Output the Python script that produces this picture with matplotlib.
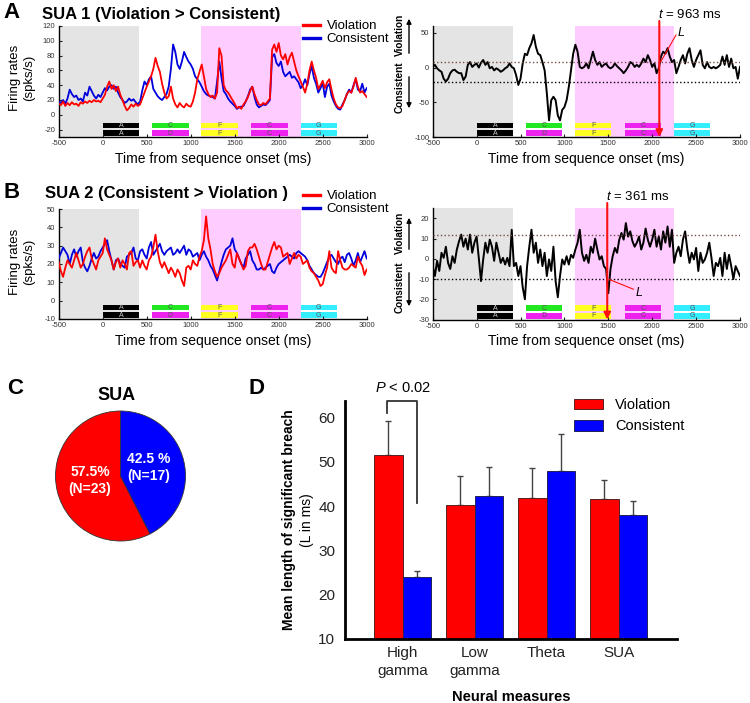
import numpy as np
import matplotlib
matplotlib.use('Agg')
import matplotlib.pyplot as plt
from matplotlib.patches import Rectangle
from matplotlib.lines import Line2D
from matplotlib.transforms import blended_transform_factory

plt.rcParams['font.family'] = ['Liberation Sans', 'DejaVu Sans']
plt.rcParams['axes.unicode_minus'] = False
plt.rcParams['mathtext.fontset'] = 'custom'
plt.rcParams['mathtext.it'] = 'Liberation Sans:italic'
plt.rcParams['mathtext.rm'] = 'Liberation Sans'

# ---------------- data ----------------
t_ms = np.arange(-500, 3001, 25)

sua1_violation = [15, 13, 18, 12, 16, 13, 17, 14, 15, 12, 17, 15, 18, 16, 19, 17, 20, 18, 19, 17,
                  22, 27, 38, 45, 35, 40, 32, 38, 27, 20, 12, 6, 9, 14, 11, 15, 12, 14, 22, 30,
                  38, 45, 52, 62, 77, 66, 58, 42, 30, 22, 25, 38, 22, 14, 10, 16, 12, 10, 15, 12,
                  11, 18, 30, 48, 58, 68, 52, 35, 28, 24, 26, 22, 30, 90, 80, 40, 33, 30, 25, 20,
                  15, 9, 11, 8, 14, 18, 24, 32, 38, 28, 20, 14, 13, 16, 14, 18, 22, 88, 95, 85,
                  97, 80, 75, 82, 68, 78, 84, 72, 60, 52, 45, 38, 30, 42, 60, 72, 60, 50, 35, 40,
                  46, 36, 44, 48, 34, 22, 14, 10, 9, 12, 20, 28, 32, 30, 38, 50, 38, 30, 32, 28,
                  24]
sua1_consistent = [18, 16, 20, 15, 22, 34, 28, 24, 26, 20, 22, 18, 30, 26, 38, 32, 26, 22, 27, 24,
                   30, 36, 33, 38, 40, 35, 38, 30, 24, 20, 16, 18, 22, 19, 21, 17, 14, 18, 33, 45,
                   40, 48, 52, 35, 30, 25, 22, 20, 24, 28, 38, 62, 95, 85, 68, 62, 72, 85, 78, 72,
                   68, 62, 52, 48, 44, 38, 32, 28, 26, 25, 24, 22, 45, 72, 50, 32, 28, 22, 18, 15,
                   12, 8, 10, 11, 12, 18, 25, 34, 38, 24, 14, 10, 12, 14, 13, 16, 20, 78, 82, 70,
                   66, 72, 58, 52, 55, 58, 50, 52, 48, 44, 36, 40, 48, 40, 55, 66, 50, 42, 30, 36,
                   43, 24, 38, 42, 26, 18, 12, 8, 7, 14, 20, 28, 34, 30, 40, 48, 34, 32, 42, 30,
                   36]
sua1_difference = [1, 4, -1, -4, -6, -16, -20, -16, -8, -4, -3, -6, -8, -8, -18, -13, 4, 8, 1, 4,
                   6, 0, 7, 11, 4, 8, -1, 1, -4, -1, -3, -6, -4, -1, 1, 6, 1, -1, -11, -25,
                   -16, 6, 20, 18, 28, 35, 47, 30, 20, 18, 8, -4, -37, -76, -47, -42, -47, -69, -76, -61,
                   -57, -47, -28, -4, 20, 33, 23, 1, -1, 1, 6, -1, 11, 23, 11, 4, 8, 1, 4, 6,
                   1, -1, 1, 6, 2, -1, -4, -8, -4, 1, 8, 6, 1, 4, 1, 6, 13, 8, 18, 11,
                   1, 6, -8, -1, 16, 23, 20, 28, 16, 8, 11, -8, 1, 11, 18, 6, 20, 28, 11, 1,
                   11, 18, 25, 4, -1, 8, 1, -1, 1, -1, 1, 4, 16, 4, 18, 1, 13, -1, 1, -16,
                   1]

sua2_violation = [21, 16, 13, 18, 22, 20, 18, 22, 26, 22, 18, 20, 24, 27, 29, 23, 20, 17, 22, 24,
                  26, 34, 28, 25, 22, 17, 21, 23, 18, 22, 20, 17, 26, 27, 19, 21, 22, 18, 22, 19,
                  17, 22, 24, 29, 36, 27, 21, 18, 21, 18, 15, 18, 16, 13, 17, 15, 11, 8, 18, 19,
                  17, 22, 20, 19, 24, 27, 33, 46, 34, 28, 20, 16, 13, 15, 18, 20, 22, 25, 28, 20,
                  18, 26, 23, 20, 17, 19, 27, 29, 29, 31, 28, 24, 20, 17, 17, 21, 25, 29, 32, 28,
                  30, 29, 24, 25, 26, 20, 23, 26, 23, 25, 24, 20, 21, 22, 18, 16, 15, 13, 11, 8,
                  9, 14, 18, 27, 18, 16, 15, 27, 22, 18, 17, 17, 18, 20, 19, 18, 24, 21, 19, 14,
                  17]
sua2_consistent = [23, 26, 29, 27, 25, 20, 25, 28, 24, 27, 29, 21, 18, 16, 19, 23, 26, 23, 24, 27,
                   29, 31, 33, 27, 22, 17, 22, 23, 20, 19, 18, 24, 25, 26, 29, 23, 22, 27, 28, 25,
                   23, 29, 32, 25, 27, 29, 31, 27, 25, 27, 28, 29, 25, 26, 28, 26, 28, 30, 25, 28,
                   27, 24, 25, 26, 22, 25, 27, 24, 22, 19, 17, 14, 11, 16, 21, 25, 28, 29, 30, 34,
                   28, 26, 23, 20, 18, 23, 25, 27, 22, 20, 17, 17, 18, 17, 18, 19, 20, 16, 15, 18,
                   20, 21, 22, 23, 24, 25, 24, 23, 26, 27, 26, 25, 24, 22, 19, 17, 15, 14, 13, 13,
                   15, 18, 21, 24, 25, 23, 21, 20, 23, 24, 21, 25, 26, 23, 19, 22, 26, 21, 24, 27,
                   23]
sua2_difference = [-3.6, -8.5, -1, -6, 3, 0.5, 6, -2, -5, 1.3, -2, 4.6, 8.7, 12, 6, 10, 4.6, 12, 3, 8,
                   11, 0.5, -11, -0.3, 8, 3, 9.5, 6, -1, 8, 3, -2, 0.5, -2.8, 0.5, -3.6, 14.4, -3.6, -2, -8.5,
                   -3.6, -14, -20, -3.6, 6, 14.4, 3, 8, -2, 4.6, -3.6, 3, -8.5, -0.3, -6, 6, -11, -19, -8.5, -0.3,
                   -2.8, 1.3, -2.8, 2, 0.5, 4.6, 8, 14.4, 3, -1, 2, -2, 6, 3, 10, 4.6, -0.3, 1.3, -3.6, -5,
                   -17, -5, 1.3, 5.4, 3, 9.5, 12.8, 9.5, 17.7, 11, 13.6, 8.7, 6, 8, 11, 4.6, 8, 15, 9.5, 6,
                   9.5, 14.4, 6, 11, 4.6, 13.6, 8, 16, 6, 14.4, -2, 3, 6, 1.3, 9.5, 13.6, 4.6, -2, 3, -0.3,
                   5.4, -6, 3, -2, -0.3, 3, 8, 0.5, -8.5, -2, -3.6, 0.5, -8.5, 3, -5, 2, -3.6, -10, -3.6, -6,
                   -8.5]

# thresholds for the difference traces (upper, lower)
sua1_thresholds = [8.5, -21]
sua2_thresholds = [11.6, -9.9]
sua1_breach_time = 2081
sua2_breach_time = 1488
sua1_breach_label = 't = 963 ms'
sua2_breach_label = 't = 361 ms'

# stimulus sequence
stim_onsets = [0, 560, 1120, 1685, 2249]
stim_dur = 415
top_letters = ['A', 'C', 'F', 'C', 'G']
bottom_letters = ['A', 'D', 'F', 'C', 'G']
top_colors = ['#000000', '#22e822', '#ffff22', '#ee22ee', '#33eeff']
bottom_colors = ['#000000', '#ee22ee', '#ffff22', '#ee22ee', '#33eeff']
baseline_window = [-500, 415]
violation_window = [1120, 2249]

# pie
pie_values = [57.5, 42.5]
pie_labels = ['57.5%\n(N=23)', '42.5 %\n(N=17)']

# bars
measures = ['High\ngamma', 'Low\ngamma', 'Theta', 'SUA']
viol_mean = [51.5, 40.2, 41.8, 41.5]
viol_err = [7.8, 6.6, 6.7, 4.3]
cons_mean = [23.9, 42.3, 48.0, 37.9]
cons_err = [1.4, 6.5, 8.3, 3.2]

# ---------------- figure ----------------
W, H = 750, 703
fig = plt.figure(figsize=(7.5, 7.03), dpi=100)


def fx(px):
    return px / W


def fy(py):
    return 1 - py / H


def rect(l, t, r, b):
    return [l / W, 1 - b / H, (r - l) / W, (b - t) / H]


def ts_panel(ax, ylim, yticks):
    ax.set_xlim(-500, 3000)
    ax.set_ylim(*ylim)
    ax.axvspan(*baseline_window, color='#e4e4e4', lw=0, zorder=0)
    ax.axvspan(*violation_window, color='#ffccff', lw=0, zorder=0)
    tr = blended_transform_factory(ax.transData, ax.transAxes)
    for letters, colors, (y0, y1) in [(top_letters, top_colors, (0.078, 0.128)),
                                      (bottom_letters, bottom_colors, (0.008, 0.062))]:
        for on, let, col in zip(stim_onsets, letters, colors):
            ax.add_patch(Rectangle((on, y0), stim_dur, y1 - y0, transform=tr,
                                   facecolor=col, edgecolor='none', zorder=1))
            ax.text(on + stim_dur / 2, (y0 + y1) / 2 - 0.003, let, transform=tr,
                    ha='center', va='center', fontsize=5,
                    color='#cccccc' if col == '#000000' else '#555555', zorder=2)
    ax.set_xticks(np.arange(-500, 3001, 500))
    ax.set_yticks(yticks)
    ax.tick_params(direction='in', length=2, labelsize=5.5, pad=2.5,
                   colors='#222222', labelcolor='#333333')
    for s in ['top', 'right']:
        ax.spines[s].set_visible(False)
    for s in ['left', 'bottom']:
        ax.spines[s].set_linewidth(1.0)
    ax.set_xlabel('Time from sequence onset (ms)', fontsize=10, labelpad=3)


def left_panel(box, viol, cons, ylim, yticks, legend_top):
    ax = fig.add_axes(box)
    ts_panel(ax, ylim, yticks)
    ax.plot(t_ms, cons, color='#0000dd', lw=1.3, zorder=3)
    ax.plot(t_ms, viol, color='#ff0000', lw=1.3, zorder=4)
    handles = [Line2D([], [], color='#ff0000', lw=2.4), Line2D([], [], color='#0000dd', lw=2.4)]
    fig.legend(handles, ['Violation', 'Consistent'], loc='upper left',
               bbox_to_anchor=(fx(303), fy(legend_top)), frameon=False, fontsize=9.5,
               handlelength=1.3, handletextpad=0.5, labelspacing=0.05,
               borderpad=0, borderaxespad=0)
    return ax


def right_panel(box, diff, ylim, yticks, thr, t_breach, label, arrow_top, text_y,
                lab_y_v, lab_y_c, up_arrow, down_arrow):
    ax = fig.add_axes(box)
    ts_panel(ax, ylim, yticks)
    ax.plot(t_ms, diff, color='black', lw=1.4, zorder=3)
    ax.axhline(thr[0], color='#7a4a4a', ls=':', lw=1.0, zorder=3)
    ax.axhline(thr[1], color='black', ls=':', lw=1.0, zorder=3)
    x_fig = ax.transData.transform((t_breach, 0))[0] / fig.bbox.width
    ax.annotate('', xy=(t_breach, ylim[0]), xycoords='data',
                xytext=(x_fig, fy(arrow_top)), textcoords='figure fraction',
                arrowprops=dict(arrowstyle='-|>', color='#ff1010', lw=1.5,
                                mutation_scale=10, shrinkA=0, shrinkB=0),
                annotation_clip=False, zorder=5)
    fig.text(x_fig - 0.002, fy(text_y),
             label.replace('t =', r'$t$ ='), fontsize=9.5, ha='left', va='center')
    fig.text(fx(400), fy(lab_y_v), 'Violation', rotation=90, fontsize=7.2,
             fontweight='bold', ha='center', va='center')
    fig.text(fx(400), fy(lab_y_c), 'Consistent', rotation=90, fontsize=7.2,
             fontweight='bold', ha='center', va='center')
    for (a, b) in [up_arrow, down_arrow]:
        fig.add_artist(matplotlib.patches.FancyArrowPatch(
            (fx(409), fy(a)), (fx(409), fy(b)), transform=fig.transFigure,
            arrowstyle='-|>', mutation_scale=7, lw=1.0, color='black'))
    return ax


# Panel A
axA1 = left_panel(rect(58.7, 26, 366.7, 137), sua1_violation, sua1_consistent,
                  (-30, 120), np.arange(-20, 121, 20), 20)
axA2 = right_panel(rect(432.7, 26, 740, 137), sua1_difference, (-100, 60), [-100, -50, 0, 50],
                   sua1_thresholds, sua1_breach_time, sua1_breach_label, 21, 15,
                   35, 87, (56, 16), (74, 111))
axA2.plot([2097, 2271], [8.4, 47], color='#ff1010', lw=0.8, zorder=5)
axA2.text(2290, 50, 'L', fontsize=9, style='italic', ha='left', va='center')

# Panel B
axB1 = left_panel(rect(58.7, 209, 366.7, 319), sua2_violation, sua2_consistent,
                  (-10, 50), np.arange(-10, 51, 10), 190)
axB2 = right_panel(rect(432.7, 208.3, 740, 319.5), sua2_difference, (-30, 25),
                   np.arange(-30, 21, 10), sua2_thresholds, sua2_breach_time,
                   sua2_breach_label, 203, 197, 233, 287, (252, 215), (270, 309))
axB2.plot([1511, 1785], [-10.2, -15], color='#ff1010', lw=0.8, zorder=5)
axB2.text(1810, -17, 'L', fontsize=9, style='italic', ha='left', va='center')

# panel letters & titles
fig.text(fx(12), fy(13), 'A', fontsize=16, fontweight='bold', ha='center', va='center')
fig.text(fx(42), fy(14), 'SUA 1 (Violation > Consistent)', fontsize=12, fontweight='bold',
         ha='left', va='center')
fig.text(fx(12), fy(193), 'B', fontsize=16, fontweight='bold', ha='center', va='center')
fig.text(fx(45), fy(194), 'SUA 2 (Consistent > Violation )', fontsize=12, fontweight='bold',
         ha='left', va='center')
for yc in (78, 262):
    fig.text(fx(22), fy(yc), 'Firing rates\n(spks/s)', rotation=90, fontsize=9.5,
             ha='center', va='center', linespacing=1.15)

# Panel C - pie
fig.text(fx(15), fy(388), 'C', fontsize=16, fontweight='bold', ha='center', va='center')
axC = fig.add_axes(rect(55.5, 411, 185.5, 541))
axC.pie(pie_values, colors=['#ff0000', '#0000ff'], startangle=90, counterclock=True,
        wedgeprops=dict(edgecolor='#333333', linewidth=0.6))
axC.set_xlim(-1, 1)
axC.set_ylim(-1, 1)
axC.text(-0.47, -0.07, pie_labels[0], color='white', fontsize=10, fontweight='bold',
         ha='center', va='center', linespacing=1.3)
axC.text(0.44, 0.13, pie_labels[1], color='white', fontsize=10, fontweight='bold',
         ha='center', va='center', linespacing=1.3)
fig.text(fx(117), fy(396), 'SUA', fontsize=13, fontweight='bold', ha='center', va='center')

# Panel D - bars
fig.text(fx(257), fy(388), 'D', fontsize=16, fontweight='bold', ha='center', va='center')
axD = fig.add_axes(rect(345, 400.7, 677, 639))
x = np.arange(len(measures))
bw = 0.40
axD.bar(x - bw / 2, viol_mean, bw, color='#ff0000', edgecolor='#552222', linewidth=0.7,
        label='Violation', zorder=2)
axD.bar(x + bw / 2, cons_mean, bw, color='#0000ff', edgecolor='#222255', linewidth=0.7,
        label='Consistent', zorder=2)
axD.errorbar(x - bw / 2, viol_mean, yerr=[[0] * 4, viol_err], fmt='none', ecolor='#444444',
             elinewidth=1.0, capsize=2.5, zorder=1)
axD.errorbar(x + bw / 2, cons_mean, yerr=[[0] * 4, cons_err], fmt='none', ecolor='#444444',
             elinewidth=1.0, capsize=2.5, zorder=1)
axD.set_xlim(-0.8, 3.81)
axD.set_ylim(10, 63.8)
axD.set_yticks([10, 20, 30, 40, 50, 60])
axD.set_xticks(x)
axD.set_xticklabels(measures, linespacing=1.35)
axD.tick_params(axis='both', labelsize=11, length=0, pad=7, colors='#222222')
axD.tick_params(axis='x', pad=5)
for s in ['top', 'right']:
    axD.spines[s].set_visible(False)
for s in ['left', 'bottom']:
    axD.spines[s].set_linewidth(2.0)
axD.legend(loc='upper left', bbox_to_anchor=(fx(574), fy(398)), bbox_transform=fig.transFigure,
           frameon=False, fontsize=10.5, handlelength=2.0, handleheight=0.75,
           handletextpad=0.8, labelspacing=0.5, borderpad=0, borderaxespad=0)
# significance bracket
axD.plot([-0.21, -0.21, 0.20, 0.20], [61.0, 63.8, 63.8, 40.6], color='#333333', lw=1.3,
         clip_on=False, zorder=3)
axD.text(0.0, 66.6, r'$P$ < 0.02', fontsize=10.5, ha='center', va='center')
fig.text(fx(289), fy(520), 'Mean length of significant breach', rotation=90, fontsize=10,
         fontweight='bold', ha='center', va='center')
fig.text(fx(307), fy(520), '(L in ms)', rotation=90, fontsize=10, ha='center', va='center')
fig.text(fx(511), fy(697), 'Neural measures', fontsize=10.5, fontweight='bold',
         ha='center', va='center')

fig.savefig('out.png', dpi=100)
